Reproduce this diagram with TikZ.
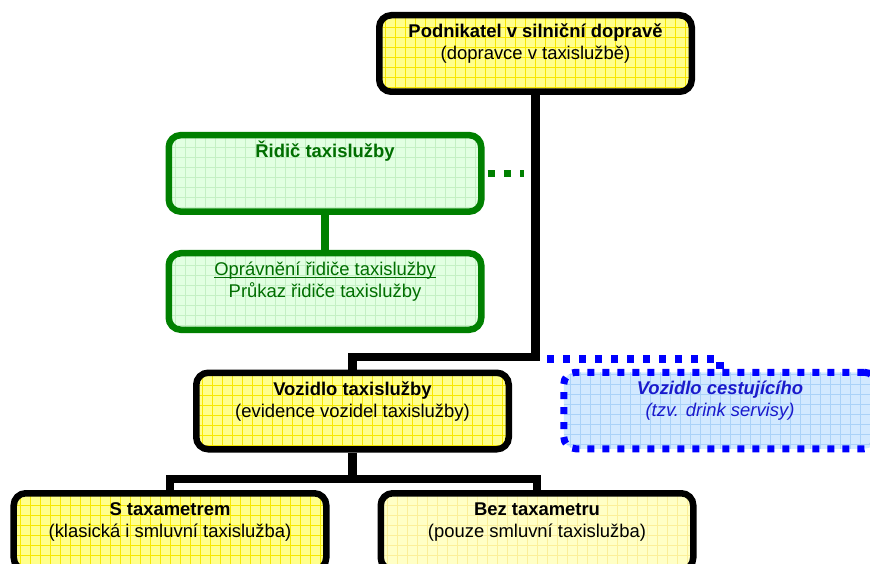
\documentclass[tikz,border=0pt]{standalone}
\usepackage{fontspec}
\setmainfont{Liberation Sans}
\definecolor{zluta}{HTML}{FFFF8C}
\definecolor{zlutamrizka}{HTML}{F8E800}
\definecolor{svetlezluta}{HTML}{FFFFC6}
\definecolor{svetlemrizka}{HTML}{FBEF9A}
\definecolor{zelena}{HTML}{008000}
\definecolor{zelenytext}{HTML}{006E00}
\definecolor{zelenafill}{HTML}{E2FFE2}
\definecolor{zelenamrizka}{HTML}{C4F0C4}
\definecolor{modra}{HTML}{0000FF}
\definecolor{modrytext}{HTML}{1A1ACC}
\definecolor{modrafill}{HTML}{D2E9FF}
\definecolor{modramrizka}{HTML}{AAD2F8}
\newcommand{\boxtext}[2]{\parbox[c][61.8bp][t]{300bp}{\centering\strut\smash{#1}\par #2}}
\newcommand{\podtrzeni}[1]{\setbox0\hbox{#1}\rlap{\rule[-2.2bp]{\wd0}{0.9bp}}\box0}
\tikzset{
  box/.style={draw, line width=6.5bp, rounded corners=12bp, minimum width=312.5bp,
    minimum height=76.5bp, inner xsep=0pt, inner ysep=7.35bp,
    font=\fontsize{18.5}{22}\selectfont},
  mrizka/.style 2 args={fill=#1, path picture={\draw[#2, solid, line width=0.7bp]
    (path picture bounding box.south west) grid[step=10bp] (path picture bounding box.north east);}},
  spoj/.style={line width=8.5bp},
}
\begin{document}
\begin{tikzpicture}[x=1bp, y=-1bp]
  \useasboundingbox (0,0) rectangle (870,564);
  \clip (0,0) rectangle (870,564);
  % krabice
  \node [box, mrizka={zluta}{zlutamrizka}] (podnikatel) at (535.5,53.5)
    {\boxtext{\textbf{Podnikatel v silniční dopravě}}{(dopravce v taxislužbě)}};
  \node [box, draw=zelena, text=zelenytext, mrizka={zelenafill}{zelenamrizka}] (ridic) at (325,173.4)
    {\boxtext{\textbf{Řidič taxislužby}}{}};
  \node [box, draw=zelena, text=zelenytext, mrizka={zelenafill}{zelenamrizka}] (opravneni) at (325,291.5)
    {\boxtext{\podtrzeni{Oprávnění řidiče taxislužby}}{Průkaz řidiče taxislužby}};
  \node [box, mrizka={zluta}{zlutamrizka}] (vozidlo) at (352.5,411)
    {\boxtext{\textbf{Vozidlo taxislužby}}{(evidence vozidel taxislužby)}};
  \node [box, draw=modra, text=modrytext, line width=7bp, dash pattern=on 7bp off 8bp,
    mrizka={modrafill}{modramrizka}] (cestujici) at (720,410.5)
    {\boxtext{\textbf{\itshape Vozidlo cestujícího}}{\itshape (tzv. drink servisy)}};
  \node [box, mrizka={zluta}{zlutamrizka}] (staxametrem) at (170,531.5)
    {\boxtext{\textbf{S taxametrem}}{(klasická i smluvní taxislužba)}};
  \node [box, mrizka={svetlezluta}{svetlemrizka}] (beztaxametru) at (537,531.5)
    {\boxtext{\textbf{Bez taxametru}}{(pouze smluvní taxislužba)}};
  % spoje
  \path (vozidlo.north |- 0,357) coordinate (J1) (vozidlo.south |- 0,479) coordinate (J2)
    (547,359) coordinate (C) (524.1,173.4) coordinate (G);
  \draw [spoj] (podnikatel.south) |- (J1) -- (vozidlo.north);
  \draw [spoj] (vozidlo.south) -- (J2);
  \draw [spoj] (staxametrem.north) |- (J2) -| (beztaxametru.north);
  \draw [zelena, line width=8bp] (ridic.south) -- (opravneni.north);
  \draw [zelena, line width=7.3bp, dash pattern=on 7.3bp off 8.9bp, dash phase=13.05bp] (ridic.east) -- (G);
  \draw [modra, line width=7.6bp, dash pattern=on 7.3bp off 8.7bp] (C) -| (cestujici.north);
\end{tikzpicture}
\end{document}
